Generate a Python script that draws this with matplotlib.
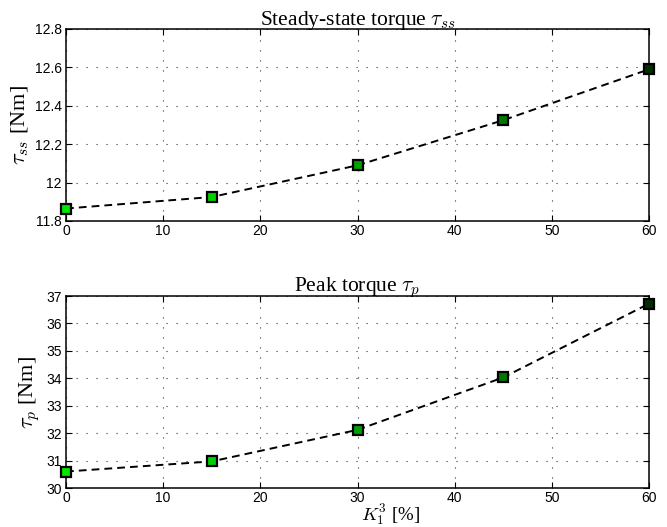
import numpy as np
import matplotlib.pyplot as plt

k13 = [0, 15, 30, 45, 60]
tau_ss = [11.865, 11.925, 12.09, 12.325, 12.59]
tau_p = [30.6, 30.97, 32.12, 34.03, 36.72]
marker_colors = ['#00e600', '#00d200', '#00a000', '#007800', '#003000']

plt.rcParams['mathtext.fontset'] = 'cm'
plt.rcParams['font.family'] = 'Liberation Sans'

fig = plt.figure(figsize=(6.67, 5.27), dpi=100)
ax1 = fig.add_axes([66/667, 1 - 221/527, 583/667, 192/527])
ax2 = fig.add_axes([66/667, 1 - 488/527, 583/667, 192/527])

def draw(ax, y, ylim, yticks, yticklabels, title, ylabel):
    ax.plot(k13, y, linestyle=(0, (4, 2.6)), color='black', lw=1.4, zorder=3)
    for xi, yi, c in zip(k13, y, marker_colors):
        ax.plot(xi, yi, 's', ms=7.5, mfc=c, mec='black', mew=1.6, zorder=4, clip_on=False)
    ax.set_xlim(0, 60)
    ax.set_ylim(*ylim)
    ax.set_xticks([0, 10, 20, 30, 40, 50, 60])
    ax.set_yticks(yticks)
    ax.set_yticklabels(yticklabels)
    ax.grid(True, linestyle=(0, (1, 8)), color='#333333', lw=0.8)
    ax.tick_params(direction='in', top=True, right=True, labelsize=10, length=4, pad=3)
    ax.tick_params(axis='x', pad=2)
    for s in ax.spines.values():
        s.set_linewidth(1.1)
    ax.set_title(title, family='Liberation Serif', fontsize=15.5, pad=3)
    ax.set_ylabel(ylabel, family='Liberation Serif', fontsize=16, labelpad=3)

draw(ax1, tau_ss, (11.8, 12.8), [11.8, 12.0, 12.2, 12.4, 12.6, 12.8],
     ['11.8', '12', '12.2', '12.4', '12.6', '12.8'],
     r'Steady-state torque $\tau_{ss}$', r'$\tau_{ss}$ [Nm]')
draw(ax2, tau_p, (30, 37), list(range(30, 38)), [str(v) for v in range(30, 38)],
     r'Peak torque $\tau_p$', r'$\tau_p$ [Nm]')
ax2.set_xlabel(r'$K_1^3$ [%]', family='Liberation Serif', fontsize=13.5)
ax2.xaxis.set_label_coords(0.557, -0.07)
ax2.xaxis.label.set_va('top')

fig.savefig('out.png', dpi=100)
